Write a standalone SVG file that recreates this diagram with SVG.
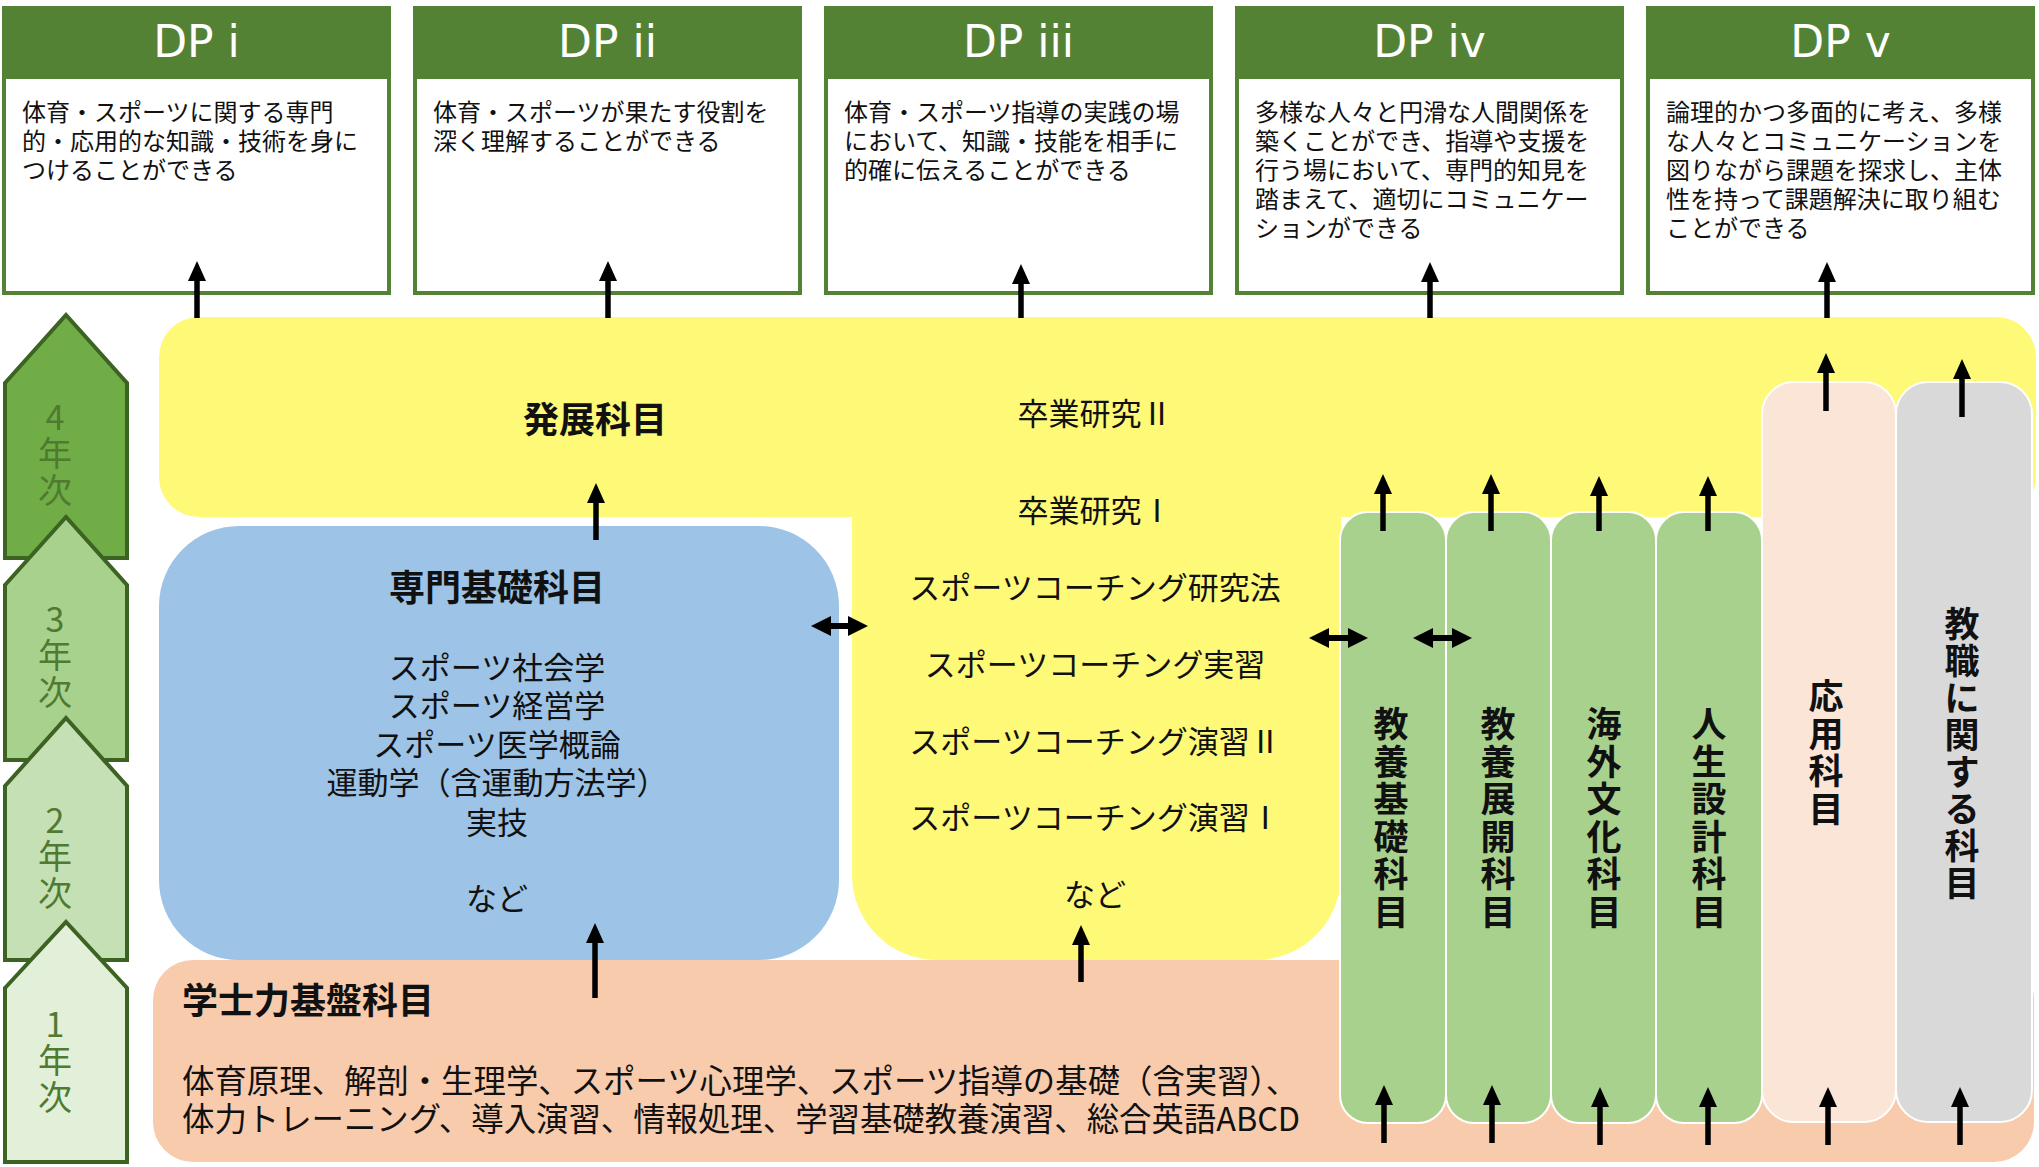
<svg xmlns="http://www.w3.org/2000/svg" width="2039" height="1167" viewBox="0 0 2039 1167">
<defs>
<style>
.jp{font-family:"Noto Sans CJK JP","Noto Sans",sans-serif;fill:#111}
.dpt{font-family:"DejaVu Sans","Noto Sans",sans-serif;font-size:44px;fill:#fff;text-anchor:middle}
.dpd{font-size:24px}
.hd{font-size:36px;font-weight:bold;text-anchor:middle}
.item{font-size:31px;text-anchor:middle}
.col{font-size:35px;font-weight:bold;text-anchor:middle}
.yr{font-family:"Noto Sans CJK JP","Noto Sans",sans-serif;font-size:34px;fill:#4f7a30;text-anchor:middle}
.dpbox{fill:#fff;stroke:#548235;stroke-width:4}
.dphead{fill:#548235}
.ar{stroke:#000;stroke-width:5.5;fill:none;marker-end:url(#ah)}
.dar{stroke:#000;stroke-width:6;fill:none;marker-end:url(#dh);marker-start:url(#dh)}
.yarrow{stroke:#3d6323;stroke-width:4}
</style>
<marker id="ah" markerUnits="userSpaceOnUse" markerWidth="20" markerHeight="18" viewBox="0 0 20 18" refX="1" refY="9" orient="auto"><path d="M0,0 L20,9 L0,18 Z" fill="#000"/></marker>
<marker id="dh" markerUnits="userSpaceOnUse" markerWidth="20" markerHeight="20" viewBox="0 0 20 20" refX="1" refY="10" orient="auto-start-reverse"><path d="M0,0 L20,10 L0,20 Z" fill="#000"/></marker>
</defs>
<rect width="2039" height="1167" fill="#fff"/>

<!-- year arrows -->
<g id="year4"><polygon class="yarrow" fill="#70AD47" points="5,383 66,315 127,383 127,558 5,558"/>
<text class="yr"><tspan x="55" y="430">4</tspan><tspan x="55" y="466">年</tspan><tspan x="55" y="503">次</tspan></text></g>
<g id="year3"><polygon class="yarrow" fill="#A9D18E" points="5,585 66,517 127,585 127,760 5,760"/>
<text class="yr"><tspan x="55" y="632">3</tspan><tspan x="55" y="668">年</tspan><tspan x="55" y="705">次</tspan></text></g>
<g id="year2"><polygon class="yarrow" fill="#C5E0B4" points="5,786 66,718 127,786 127,960 5,960"/>
<text class="yr"><tspan x="55" y="833">2</tspan><tspan x="55" y="869">年</tspan><tspan x="55" y="906">次</tspan></text></g>
<g id="year1"><polygon class="yarrow" fill="#E2F0D9" points="5,988 66,922 127,988 127,1162 5,1162"/>
<text class="yr"><tspan x="55" y="1037">1</tspan><tspan x="55" y="1073">年</tspan><tspan x="55" y="1110">次</tspan></text></g>

<!-- DP boxes -->
<g id="dp1"><rect class="dpbox" x="4" y="8" width="385" height="285"/><rect class="dphead" x="2" y="6" width="389" height="73"/>
<text class="dpt" x="196.5" y="57">DP i</text>
<text class="jp dpd"><tspan x="22" y="121">体育・スポーツに関する専門</tspan><tspan x="22" y="150">的・応用的な知識・技術を身に</tspan><tspan x="22" y="179">つけることができる</tspan></text></g>
<g id="dp2"><rect class="dpbox" x="415" y="8" width="385" height="285"/><rect class="dphead" x="413" y="6" width="389" height="73"/>
<text class="dpt" x="607.5" y="57">DP ii</text>
<text class="jp dpd"><tspan x="433" y="121">体育・スポーツが果たす役割を</tspan><tspan x="433" y="150">深く理解することができる</tspan></text></g>
<g id="dp3"><rect class="dpbox" x="826" y="8" width="385" height="285"/><rect class="dphead" x="824" y="6" width="389" height="73"/>
<text class="dpt" x="1018.5" y="57">DP iii</text>
<text class="jp dpd"><tspan x="844" y="121">体育・スポーツ指導の実践の場</tspan><tspan x="844" y="150">において、知識・技能を相手に</tspan><tspan x="844" y="179">的確に伝えることができる</tspan></text></g>
<g id="dp4"><rect class="dpbox" x="1237" y="8" width="385" height="285"/><rect class="dphead" x="1235" y="6" width="389" height="73"/>
<text class="dpt" x="1429.5" y="57">DP iv</text>
<text class="jp dpd"><tspan x="1255" y="121">多様な人々と円滑な人間関係を</tspan><tspan x="1255" y="150">築くことができ、指導や支援を</tspan><tspan x="1255" y="179">行う場において、専門的知見を</tspan><tspan x="1255" y="208">踏まえて、適切にコミュニケー</tspan><tspan x="1255" y="237">ションができる</tspan></text></g>
<g id="dp5"><rect class="dpbox" x="1648" y="8" width="385" height="285"/><rect class="dphead" x="1646" y="6" width="389" height="73"/>
<text class="dpt" x="1840.5" y="57">DP v</text>
<text class="jp dpd"><tspan x="1666" y="121">論理的かつ多面的に考え、多様</tspan><tspan x="1666" y="150">な人々とコミュニケーションを</tspan><tspan x="1666" y="179">図りながら課題を探求し、主体</tspan><tspan x="1666" y="208">性を持って課題解決に取り組む</tspan><tspan x="1666" y="237">ことができる</tspan></text></g>

<!-- 発展科目 -->
<g id="hatten">
<rect x="159" y="317" width="1877" height="200" rx="40" fill="#FFF978"/>
<path d="M852,505 H1341 V875 A85,85 0 0 1 1256,960 H937 A85,85 0 0 1 852,875 Z" fill="#FFF978"/>
<text class="jp hd" x="595" y="433">発展科目</text>
<text class="jp item"><tspan x="1095" y="425">卒業研究Ⅱ</tspan><tspan x="1095" y="522">卒業研究Ⅰ</tspan><tspan x="1095" y="599">スポーツコーチング研究法</tspan><tspan x="1095" y="676">スポーツコーチング実習</tspan><tspan x="1095" y="753">スポーツコーチング演習Ⅱ</tspan><tspan x="1095" y="829">スポーツコーチング演習Ⅰ</tspan><tspan x="1095" y="906">など</tspan></text>
</g>

<!-- 専門基礎科目 -->
<g id="senmon">
<rect x="159" y="526" width="680" height="434" rx="80" fill="#9DC3E6"/>
<text class="jp hd" x="497" y="601">専門基礎科目</text>
<text class="jp item"><tspan x="497" y="679">スポーツ社会学</tspan><tspan x="497" y="717">スポーツ経営学</tspan><tspan x="497" y="756">スポーツ医学概論</tspan><tspan x="497" y="794">運動学（含運動方法学）</tspan><tspan x="497" y="834">実技</tspan><tspan x="497" y="910">など</tspan></text>
</g>

<!-- 学士力基盤科目 -->
<g id="gakushi">
<rect x="153" y="960" width="1881" height="202" rx="40" fill="#F8CBAD"/>
<text class="jp" x="182" y="1014" font-size="36" font-weight="bold">学士力基盤科目</text>
<text class="jp" font-size="32.4"><tspan x="182" y="1093">体育原理、解剖・生理学、スポーツ心理学、スポーツ指導の基礎（含実習）、</tspan><tspan x="182" y="1131">体力トレーニング、導入演習、情報処理、学習基礎教養演習、総合英語ABCD</tspan></text>
</g>

<!-- columns -->
<g id="kyoyo-kiso"><rect x="1340" y="512" width="106" height="611" rx="28" fill="#A9D18E" stroke="#fff" stroke-width="2"/>
<text class="jp col"><tspan x="1391" y="737">教</tspan><tspan x="1391" y="774.5">養</tspan><tspan x="1391" y="812">基</tspan><tspan x="1391" y="849.5">礎</tspan><tspan x="1391" y="887">科</tspan><tspan x="1391" y="924.5">目</tspan></text></g>
<g id="kyoyo-tenkai"><rect x="1446" y="512" width="105" height="611" rx="28" fill="#A9D18E" stroke="#fff" stroke-width="2"/>
<text class="jp col"><tspan x="1498" y="737">教</tspan><tspan x="1498" y="774.5">養</tspan><tspan x="1498" y="812">展</tspan><tspan x="1498" y="849.5">開</tspan><tspan x="1498" y="887">科</tspan><tspan x="1498" y="924.5">目</tspan></text></g>
<g id="kaigai"><rect x="1551" y="512" width="105" height="611" rx="28" fill="#A9D18E" stroke="#fff" stroke-width="2"/>
<text class="jp col"><tspan x="1604" y="737">海</tspan><tspan x="1604" y="774.5">外</tspan><tspan x="1604" y="812">文</tspan><tspan x="1604" y="849.5">化</tspan><tspan x="1604" y="887">科</tspan><tspan x="1604" y="924.5">目</tspan></text></g>
<g id="jinsei"><rect x="1656" y="512" width="106" height="611" rx="28" fill="#A9D18E" stroke="#fff" stroke-width="2"/>
<text class="jp col"><tspan x="1709" y="737">人</tspan><tspan x="1709" y="774.5">生</tspan><tspan x="1709" y="812">設</tspan><tspan x="1709" y="849.5">計</tspan><tspan x="1709" y="887">科</tspan><tspan x="1709" y="924.5">目</tspan></text></g>
<g id="oyo"><rect x="1762" y="382" width="134" height="740" rx="32" fill="#FBE5D6" stroke="#fff" stroke-width="2"/>
<text class="jp col"><tspan x="1826" y="709">応</tspan><tspan x="1826" y="746.5">用</tspan><tspan x="1826" y="784">科</tspan><tspan x="1826" y="821.5">目</tspan></text></g>
<g id="kyoshoku"><rect x="1896" y="382" width="136" height="740" rx="32" fill="#D9D9D9" stroke="#fff" stroke-width="2"/>
<text class="jp col"><tspan x="1962" y="637">教</tspan><tspan x="1962" y="674">職</tspan><tspan x="1962" y="711">に</tspan><tspan x="1962" y="748">関</tspan><tspan x="1962" y="785">す</tspan><tspan x="1962" y="822">る</tspan><tspan x="1962" y="859">科</tspan><tspan x="1962" y="896">目</tspan></text></g>

<!-- connectors -->
<g id="connectors">
<line class="ar" x1="197" y1="318" x2="197" y2="280"/>
<line class="ar" x1="608" y1="318" x2="608" y2="280"/>
<line class="ar" x1="1021" y1="318" x2="1021" y2="283"/>
<line class="ar" x1="1430" y1="318" x2="1430" y2="281"/>
<line class="ar" x1="1827" y1="318" x2="1827" y2="281"/>
<line class="ar" x1="596" y1="540" x2="596" y2="502"/>
<line class="ar" x1="595" y1="998" x2="595" y2="942"/>
<line class="ar" x1="1081" y1="982" x2="1081" y2="944"/>
<line class="ar" x1="1383" y1="531" x2="1383" y2="493"/>
<line class="ar" x1="1491" y1="531" x2="1491" y2="493"/>
<line class="ar" x1="1599" y1="531" x2="1599" y2="495"/>
<line class="ar" x1="1708" y1="531" x2="1708" y2="495"/>
<line class="ar" x1="1826" y1="411" x2="1826" y2="372"/>
<line class="ar" x1="1962" y1="417" x2="1962" y2="378"/>
<line class="ar" x1="1384" y1="1143" x2="1384" y2="1104"/>
<line class="ar" x1="1492" y1="1143" x2="1492" y2="1104"/>
<line class="ar" x1="1600" y1="1145" x2="1600" y2="1106"/>
<line class="ar" x1="1708" y1="1145" x2="1708" y2="1106"/>
<line class="ar" x1="1828" y1="1145" x2="1828" y2="1106"/>
<line class="ar" x1="1960" y1="1145" x2="1960" y2="1106"/>
<line class="dar" x1="830" y1="626" x2="849" y2="626"/>
<line class="dar" x1="1328" y1="638" x2="1349" y2="638"/>
<line class="dar" x1="1432" y1="638" x2="1453" y2="638"/>
</g>
</svg>
